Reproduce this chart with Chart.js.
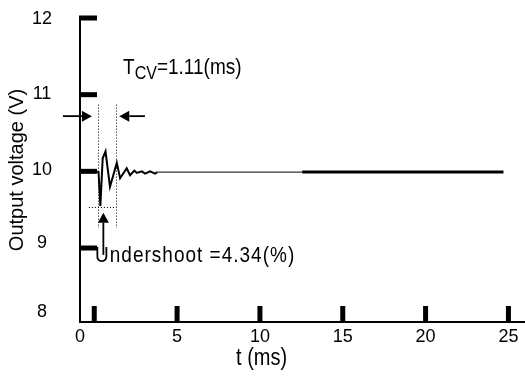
<!DOCTYPE html>
<html>
<head>
<meta charset="utf-8">
<script src="https://cdn.jsdelivr.net/npm/chart.js@4"></script>
<style>
  html, body { margin: 0; padding: 0; background: #fff; }
</style>
</head>
<body>
<canvas id="myChart" width="525" height="377"></canvas>
<script>
// transient after the load step (time in ms, voltage in V)
var waveT = [0, 0.26, 0.37, 0.51, 0.68, 0.95, 1.36, 1.56, 1.96, 2.16, 2.42, 2.57, 2.87, 3.07, 3.37, 3.67, 3.8];
var waveV = [10.0, 9.99, 9.55, 10.17, 10.26, 9.8, 10.11, 9.91, 10.04, 9.95, 10.01, 9.98, 10.0, 9.97, 10.0, 9.97, 9.99];
// steady state, drawn thin then thick like the original trace
var thinT = [3.8, 12.55];
var thinV = [9.99, 9.99];
var thickT = [12.55, 24.7];
var thickV = [9.99, 9.99];

var xTickValues = [0, 5, 10, 15, 20, 25];
var xTickLabels = ['0', '5', '10', '15', '20', '25'];
var yTickValues = [8, 9, 10, 11, 12];
var yTickLabels = ['8', '9', '10', '11', '12'];

var tcvStart = 0.21;
var tcv = 1.11;
var undershootV = 9.54;
var undershootPct = 4.34;

function pts(ts, vs) {
    return ts.map(function (t, i) { return {x: t, y: vs[i]}; });
}

var FONT = "'Liberation Sans', Arial, sans-serif";
Chart.defaults.color = '#000';
Chart.defaults.font.family = FONT;

// where the tick labels sit in the original (they are offset from the marks)
var xLabelAt = [-0.86, 5, 10, 15, 20, 25];
var yLabelAt = [8.16, 9.07, 10.02, 11.01, 11.99];

function arrow(ctx, x1, y1, x2, y2) {
    var a = Math.atan2(y2 - y1, x2 - x1);
    var len = 10, hw = 5.5;
    ctx.beginPath();
    ctx.moveTo(x1, y1);
    ctx.lineTo(x2 - Math.cos(a) * len, y2 - Math.sin(a) * len);
    ctx.stroke();
    ctx.beginPath();
    ctx.moveTo(x2, y2);
    ctx.lineTo(x2 - Math.cos(a) * len - Math.sin(a) * hw, y2 - Math.sin(a) * len + Math.cos(a) * hw);
    ctx.lineTo(x2 - Math.cos(a) * len + Math.sin(a) * hw, y2 - Math.sin(a) * len - Math.cos(a) * hw);
    ctx.closePath();
    ctx.fill();
}

// the original lettering is a bit taller than it is wide
function tallText(ctx, text, x, y) {
    ctx.save();
    ctx.translate(x, y);
    ctx.scale(1, 1.15);
    ctx.fillText(text, 0, 0);
    ctx.restore();
}

var annotations = {
    id: 'annotations',
    afterDraw: function (chart) {
        var ctx = chart.ctx;
        var x = chart.scales.x, y = chart.scales.y;
        var px = function (v) { return x.getPixelForValue(v); };
        var py = function (v) { return y.getPixelForValue(v); };
        ctx.save();
        ctx.fillStyle = '#000';
        ctx.strokeStyle = '#000';

        // thick inward tick marks
        xTickValues.forEach(function (v) { ctx.fillRect(px(v) - 2.5, x.top - 16, 5, 16); });
        yTickValues.slice(1).forEach(function (v) { ctx.fillRect(y.right - 1, py(v) - 2.5, 18, 5); });

        // dotted box round the first swing
        var tcvEnd = tcvStart + tcv;
        ctx.lineWidth = 1;
        ctx.setLineDash([1, 2]);
        ctx.beginPath();
        ctx.moveTo(Math.round(px(tcvStart)) + 0.5, py(10.87));
        ctx.lineTo(Math.round(px(tcvStart)) + 0.5, py(9.26));
        ctx.moveTo(Math.round(px(tcvEnd)) + 0.5, py(10.87));
        ctx.lineTo(Math.round(px(tcvEnd)) + 0.5, py(9.26));
        ctx.moveTo(px(-0.32), Math.round(py(undershootV)) + 0.5);
        ctx.lineTo(px(tcvEnd), Math.round(py(undershootV)) + 0.5);
        ctx.stroke();
        ctx.setLineDash([]);

        // arrows
        ctx.lineWidth = 1.8;
        arrow(ctx, px(-1.89), py(10.72), px(-0.14), py(10.72));
        arrow(ctx, px(3.06), py(10.72), px(1.51), py(10.72));
        arrow(ctx, px(0.55), py(8.91), px(0.55), py(9.46));

        // labels
        ctx.textBaseline = 'alphabetic';
        ctx.textAlign = 'left';
        var tx = px(1.74), ty = py(11.27);
        ctx.font = '19px ' + FONT;
        tallText(ctx, 'T', tx, ty);
        tx += ctx.measureText('T').width;
        ctx.font = '16px ' + FONT;
        tallText(ctx, 'CV', tx, ty + 5);
        tx += ctx.measureText('CV').width;
        ctx.font = '19px ' + FONT;
        tallText(ctx, '=' + tcv.toFixed(2) + '(ms)', tx, ty);

        ctx.letterSpacing = '1px';
        tallText(ctx, 'Undershoot =' + undershootPct.toFixed(2) + '(%)', px(0.05), py(8.82));
        ctx.letterSpacing = '0px';

        ctx.font = '20px ' + FONT;
        ctx.textAlign = 'center';
        tallText(ctx, 't (ms)', px(10.1), x.bottom - 12);
        ctx.restore();
    }
};

var ctx = document.getElementById('myChart').getContext('2d');
var myChart = new Chart(ctx, {
    type: 'scatter',
    data: {
        datasets: [{
            data: pts(waveT, waveV),
            showLine: true,
            borderColor: '#000',
            borderWidth: 2,
            pointRadius: 0,
            tension: 0
        },
        {
            data: pts(thinT, thinV),
            showLine: true,
            borderColor: '#000',
            borderWidth: 1,
            pointRadius: 0
        },
        {
            data: pts(thickT, thickV),
            showLine: true,
            borderColor: '#000',
            borderWidth: 3,
            pointRadius: 0
        }]
    },
    options: {
        responsive: false,
        animation: false,
        layout: {padding: {top: 18, right: 0, bottom: 0, left: 0}},
        plugins: {
            legend: {display: false},
            tooltip: {enabled: false}
        },
        scales: {
            x: {
                type: 'linear',
                min: -0.86,
                max: 26,
                grid: {display: false, drawTicks: false},
                border: {display: true, color: '#000', width: 2},
                afterBuildTicks: function (scale) {
                    scale.ticks = xLabelAt.map(function (v) { return {value: v}; });
                },
                afterFit: function (scale) {
                    scale.height = 55;
                    scale.paddingLeft = 0;
                    scale.paddingRight = 0;
                },
                ticks: {
                    autoSkip: false,
                    maxRotation: 0,
                    padding: 4,
                    font: {size: 18},
                    callback: function (value, index) { return xTickLabels[index]; }
                }
            },
            y: {
                type: 'linear',
                min: 8.035,
                max: 12,
                grid: {display: false, drawTicks: false},
                border: {display: true, color: '#000', width: 2},
                afterBuildTicks: function (scale) {
                    scale.ticks = yLabelAt.map(function (v) { return {value: v}; });
                },
                afterFit: function (scale) {
                    scale.width = 80;
                    scale.paddingTop = 0;
                    scale.paddingBottom = 0;
                },
                ticks: {
                    autoSkip: false,
                    crossAlign: 'center',
                    padding: 28,
                    font: {size: 18},
                    callback: function (value, index) { return yTickLabels[index]; }
                },
                title: {
                    display: true,
                    text: 'Output voltage (V)',
                    font: {size: 20},
                    padding: {top: 5, bottom: 0}
                }
            }
        }
    },
    plugins: [annotations]
});
</script>
</body>
</html>
